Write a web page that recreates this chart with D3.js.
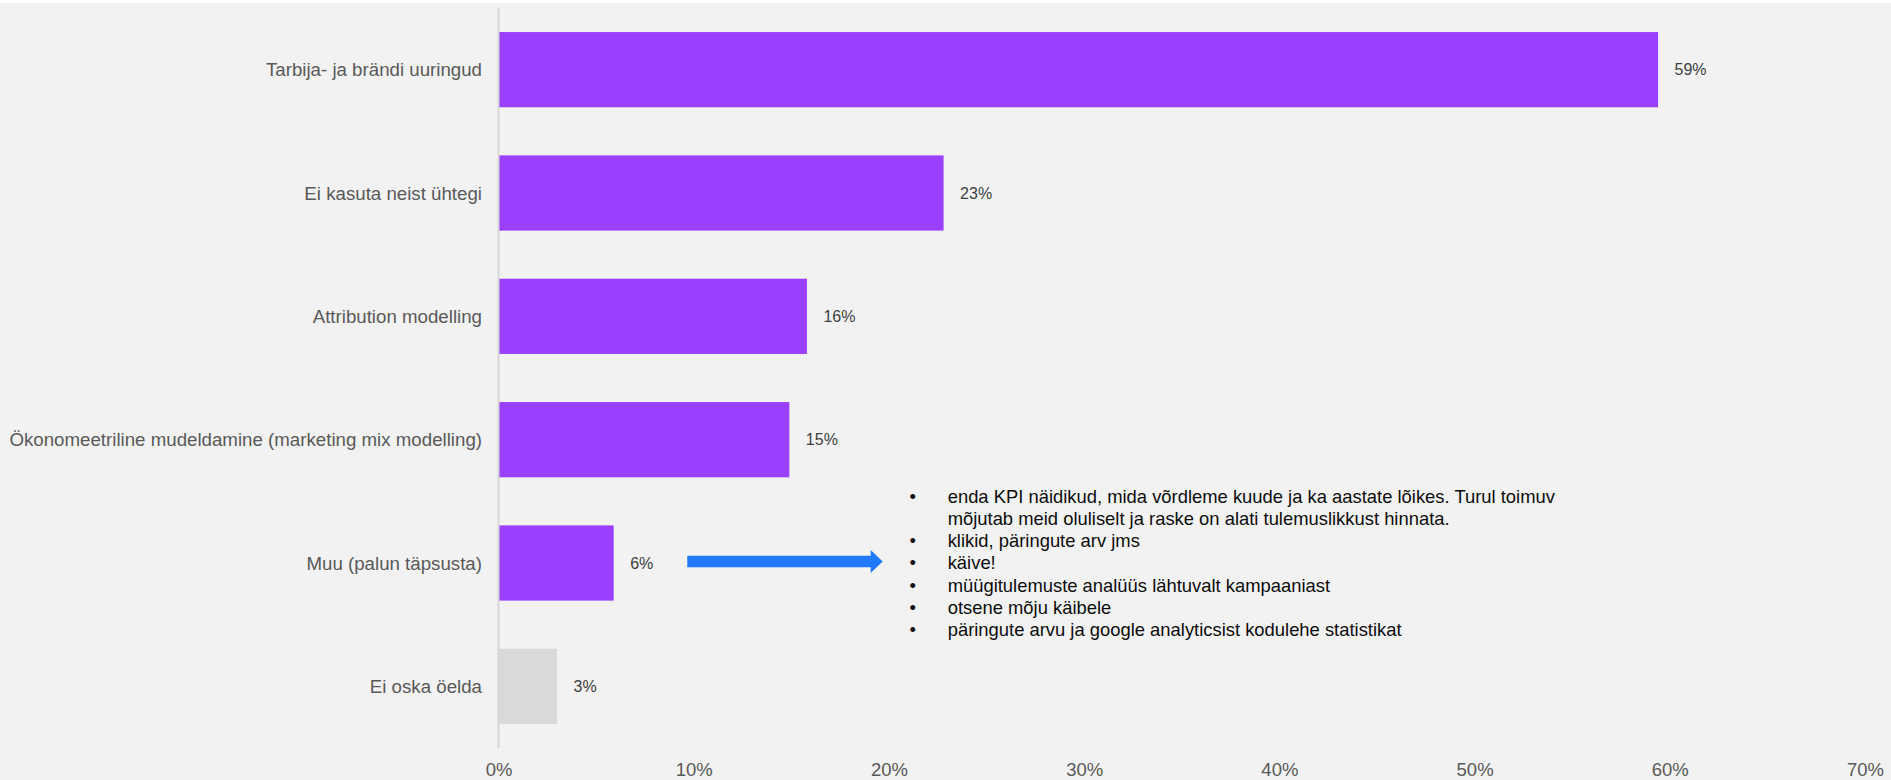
<!DOCTYPE html>
<html>
<head>
<meta charset="utf-8">
<script src="https://cdn.jsdelivr.net/npm/d3@7"></script>
<style>
  html, body { margin: 0; padding: 0; background: #ffffff; }
  svg { display: block; }
  text { font-family: Arial, "Liberation Sans", sans-serif; }
</style>
</head>
<body>
<svg id="chart" width="1891" height="780"></svg>
<script>
// Survey answers: which methods are used to measure campaign results
const categories = [
  "Tarbija- ja brändi uuringud",
  "Ei kasuta neist ühtegi",
  "Attribution modelling",
  "Ökonomeetriline mudeldamine (marketing mix modelling)",
  "Muu (palun täpsusta)",
  "Ei oska öelda"
];
const shares = [0.594, 0.228, 0.158, 0.149, 0.059, 0.030];
const xTicks = [0, 0.1, 0.2, 0.3, 0.4, 0.5, 0.6, 0.7];

// Free-text answers given under "Muu (palun täpsusta)"
const otherAnswers = [
  ["enda KPI näidikud, mida võrdleme kuude ja ka aastate lõikes. Turul toimuv",
   "mõjutab meid oluliselt ja raske on alati tulemuslikkust hinnata."],
  ["klikid, päringute arv jms"],
  ["käive!"],
  ["müügitulemuste analüüs lähtuvalt kampaaniast"],
  ["otsene mõju käibele"],
  ["päringute arvu ja google analyticsist kodulehe statistikat"]
];

const W = 1891, H = 780;
const svg = d3.select("#chart");

// panel background
svg.append("rect")
  .attr("x", 0).attr("y", 3)
  .attr("width", W).attr("height", H - 3)
  .attr("fill", "#f2f2f2");

const x = d3.scaleLinear().domain([0, 0.7]).range([498.5, 1865]);
const y = d3.scaleBand().domain(categories).range([8, 748])
  .paddingInner(0.39).paddingOuter(0.195);

const data = categories.map((c, i) => ({ cat: c, v: shares[i] }));

// bars
svg.append("g").selectAll("rect")
  .data(data)
  .join("rect")
  .attr("x", x(0))
  .attr("y", d => y(d.cat))
  .attr("width", d => x(d.v) - x(0))
  .attr("height", y.bandwidth())
  .attr("fill", d => d.cat === "Ei oska öelda" ? "#d9d9d9" : "#9b40ff");

// vertical baseline
svg.append("line")
  .attr("x1", x(0)).attr("x2", x(0))
  .attr("y1", y.range()[0]).attr("y2", y.range()[1])
  .attr("stroke", "#d6d6d6").attr("stroke-width", 2);

// category labels
svg.append("g").selectAll("text")
  .data(data)
  .join("text")
  .attr("x", x(0) - 16.5)
  .attr("y", d => y(d.cat) + y.bandwidth() / 2)
  .attr("dy", "0.35em")
  .attr("text-anchor", "end")
  .attr("font-size", 18.7)
  .attr("fill", "#595959")
  .text(d => d.cat);

// value labels
const pct = d3.format(".0%");
svg.append("g").selectAll("text")
  .data(data)
  .join("text")
  .attr("x", d => x(d.v) + 16.5)
  .attr("y", d => y(d.cat) + y.bandwidth() / 2)
  .attr("dy", "0.35em")
  .attr("font-size", 16)
  .attr("fill", "#404040")
  .text(d => pct(d.v));

// x axis tick labels
const xAxis = d3.axisBottom(x).tickValues(xTicks).tickFormat(pct).tickSize(0).tickPadding(0);
const axisG = svg.append("g")
  .attr("transform", "translate(0,763)")
  .call(xAxis);
axisG.select(".domain").remove();
axisG.selectAll("text")
  .attr("font-family", "Arial, 'Liberation Sans', sans-serif")
  .attr("font-size", 18.5)
  .attr("fill", "#595959")
  .attr("dy", "0.71em");

// arrow pointing from the "Muu" bar to its free-text answers
const muuY = y("Muu (palun täpsusta)") + y.bandwidth() / 2 - 1.5;
const ax0 = x(0.0967), axTip = x(0.1968);
const headLen = 12, shaftH = 11.6, headH = 23;
svg.append("path")
  .attr("d", [
    "M", ax0, muuY - shaftH / 2,
    "L", axTip - headLen, muuY - shaftH / 2,
    "L", axTip - headLen, muuY - headH / 2,
    "L", axTip, muuY,
    "L", axTip - headLen, muuY + headH / 2,
    "L", axTip - headLen, muuY + shaftH / 2,
    "L", ax0, muuY + shaftH / 2, "Z"
  ].join(" "))
  .attr("fill", "#2079ff");

// bulleted list of the free-text answers
const lineH = 22.2;
const listTop = 502.7;
const bulletX = axTip + 30;
const textX = axTip + 65;
const listFont = 18.4;
const listG = svg.append("g");
let row = 0;
otherAnswers.forEach(item => {
  listG.append("text")
    .attr("x", bulletX)
    .attr("y", listTop + row * lineH)
    .attr("text-anchor", "middle")
    .attr("font-size", listFont)
    .attr("fill", "#0d0d0d")
    .text("•");
  item.forEach(line => {
    listG.append("text")
      .attr("x", textX)
      .attr("y", listTop + row * lineH)
      .attr("font-size", listFont)
      .attr("fill", "#0d0d0d")
      .text(line);
    row++;
  });
});
</script>
</body>
</html>
